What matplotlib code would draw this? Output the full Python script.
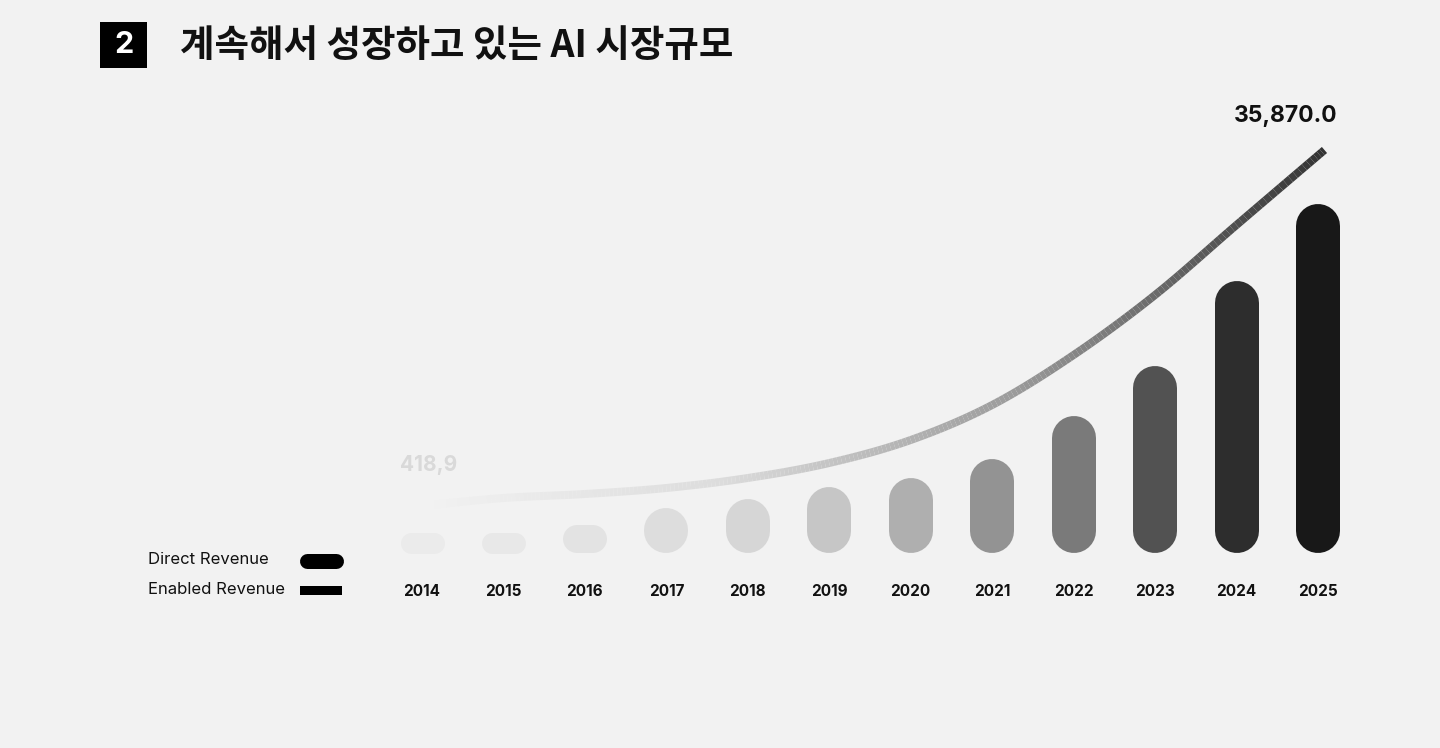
import numpy as np
import matplotlib
matplotlib.use("Agg")
import matplotlib.pyplot as plt
from matplotlib.collections import LineCollection
from matplotlib.colors import LinearSegmentedColormap
from matplotlib.patches import Rectangle

years = [2014, 2015, 2016, 2017, 2018, 2019, 2020, 2021, 2022, 2023, 2024, 2025]
bar_heights = [21, 21, 28, 45, 54, 66, 75, 94, 137, 187, 272, 349]
curve_x = [2014.1, 2015, 2016, 2017, 2018, 2019, 2020, 2021, 2022, 2023, 2024, 2025.08]
curve_y = [48, 55, 59, 65, 75, 90, 113, 148, 198, 258, 328, 403]
bar_colors = ["#ebebeb", "#e8e8e8", "#e3e3e3", "#dddddd", "#d6d6d6", "#c6c6c6",
              "#afafaf", "#939393", "#7a7a7a", "#525252", "#2d2d2d", "#181818"]
start_label = "418,9"
end_label = "35,870.0"
title = "계속해서 성장하고 있는 AI 시장규모"

bg = "#f2f2f2"
fig = plt.figure(figsize=(14.4, 7.48), dpi=100, facecolor=bg)
ax = fig.add_axes([0, 0, 1, 1])
ax.set_facecolor(bg)
pxx = 81.45
ax.set_xlim(2014 - 422 / pxx, 2014 + (1440 - 422) / pxx)
ax.set_ylim(-195, 553)
ax.axis("off")
pt = 72 / 100  # points per pixel

bw = 44
for x, h, c in zip(years, bar_heights, bar_colors):
    if h >= bw:
        r = bw / 2
        ax.plot([x, x], [r, h - r], color=c, lw=bw * pt, solid_capstyle="round")
    else:
        half = (bw - h) / 2 / pxx
        ax.plot([x - half, x + half], [h / 2, h / 2], color=c, lw=h * pt, solid_capstyle="round")
    ax.text(x, -38, str(x), ha="center", va="center", fontsize=11, fontweight="bold",
            family=["Inter", "DejaVu Sans"], color="#111111")

# smooth curve (Catmull-Rom for rendering)
P = np.column_stack([curve_x, curve_y]).astype(float)
P = np.vstack([P[0], P, P[-1]])
pts = []
for i in range(1, len(P) - 2):
    p0, p1, p2, p3 = P[i - 1], P[i], P[i + 1], P[i + 2]
    for t in np.linspace(0, 1, 20, endpoint=False):
        pts.append(0.5 * ((2 * p1) + (-p0 + p2) * t + (2 * p0 - 5 * p1 + 4 * p2 - p3) * t ** 2
                          + (-p0 + 3 * p1 - 3 * p2 + p3) * t ** 3))
pts.append(P[-2])
pts = np.array(pts)
segs = np.stack([pts[:-1], pts[1:]], axis=1)
cmap = LinearSegmentedColormap.from_list("g", ["#f2f2f2", "#dcdcdc", "#9a9a9a", "#333333"])
lc = LineCollection(segs, cmap=cmap, linewidths=8 * pt, capstyle="butt")
lc.set_array(np.linspace(0, 1, len(segs)))
ax.add_collection(lc)

ax.text(2014.08, 88, start_label, ha="center", va="center", fontsize=15, fontweight="bold",
        family=["Inter", "DejaVu Sans"], color="#d9d9d9")
ax.text(2024.6, 437, end_label, ha="center", va="center", fontsize=16.5, fontweight="bold",
        family=["Inter", "DejaVu Sans"], color="#111111")

# legend
lx = 2014 - (422 - 148) / pxx
ax.text(lx, -7, "Direct Revenue", ha="left", va="center", fontsize=12,
        family=["Inter", "DejaVu Sans"], color="#111111")
ax.text(lx, -37, "Enabled Revenue", ha="left", va="center", fontsize=12,
        family=["Inter", "DejaVu Sans"], color="#111111")
x1 = 2014 - (422 - 307) / pxx
x2 = 2014 - (422 - 336) / pxx
ax.plot([x1, x2], [-8, -8], color="black", lw=15 * pt, solid_capstyle="round")
ax.add_patch(Rectangle((2014 - (422 - 300) / pxx, -42), 42 / pxx, 9, color="black", lw=0))

# title
fig.patches.append(Rectangle((100 / 1440, 1 - 68 / 748), 47 / 1440, 46 / 748,
                             transform=fig.transFigure, color="black", lw=0))
fig.text(123.5 / 1440, 1 - 45 / 748, "2", ha="center", va="center", color="white",
         fontsize=22, fontweight="bold", family=["Inter", "DejaVu Sans"])
fig.text(180 / 1440, 1 - 46 / 748, title, ha="left", va="center", color="#111111",
         fontsize=27, fontweight="bold", family=["Noto Sans CJK KR", "DejaVu Sans"])

fig.savefig("out.png", dpi=100, facecolor=bg)
